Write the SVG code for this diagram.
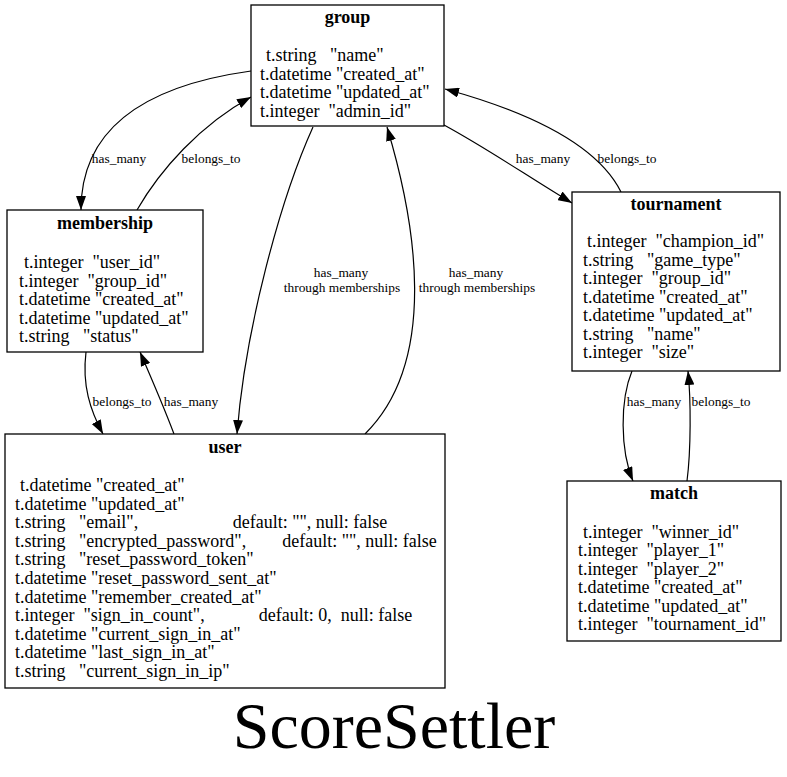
<svg xmlns="http://www.w3.org/2000/svg" width="787" height="777" viewBox="0 0 787 777">
<style>
.bg{fill:#fff}
.box{fill:#fff;stroke:#000;stroke-width:1.3}
.t{font-family:"Liberation Serif","Times New Roman",serif;font-size:18px;fill:#000;white-space:pre}
.h{font-weight:bold;text-anchor:middle}
.e{fill:none;stroke:#000;stroke-width:1.2;marker-end:url(#ah)}
.l{font-family:"Liberation Serif","Times New Roman",serif;font-size:13.4px;fill:#000;text-anchor:middle}
.big{font-family:"Liberation Serif","Times New Roman",serif;font-size:66px;fill:#000;text-anchor:middle}
</style>
<defs>
<marker id="ah" markerWidth="14" markerHeight="10" refX="14" refY="5" orient="auto" markerUnits="userSpaceOnUse">
<path d="M0,0 L14,5 L0,10 z" fill="#000"/>
</marker>
</defs>
<rect class="bg" x="0" y="0" width="787" height="777"/>

<g id="connectors">
<path class="e" d="M251,71 C150,85 81,125 81,210"/>
<path class="e" d="M137,210 C160,170 200,125 251,97"/>
<path class="e" d="M444,125 C490,150 530,178 572,203"/>
<path class="e" d="M621,192 C600,150 540,115 445,89"/>
<path class="e" d="M313,127 C280,200 245,330 237,434"/>
<path class="e" d="M365,434 C440,360 415,220 387,127"/>
<path class="e" d="M86,352 C82,385 90,410 103,434"/>
<path class="e" d="M174,434 C165,410 150,375 140,352"/>
<path class="e" d="M632,371 C620,400 620,450 633,481"/>
<path class="e" d="M687,481 C691,450 691,400 688,371"/>
<text class="l" x="119" y="163">has_many</text>
<text class="l" x="211" y="163">belongs_to</text>
<text class="l" x="543" y="163">has_many</text>
<text class="l" x="627" y="163">belongs_to</text>
<text class="l" x="341" y="277">has_many</text>
<text class="l" x="342" y="292">through memberships</text>
<text class="l" x="476" y="277">has_many</text>
<text class="l" x="477" y="292">through memberships</text>
<text class="l" x="122" y="406">belongs_to</text>
<text class="l" x="191" y="406">has_many</text>
<text class="l" x="654" y="406">has_many</text>
<text class="l" x="721" y="406">belongs_to</text>
</g>

<g id="group">
<rect class="box" x="251" y="5" width="193" height="121"/>
<text class="t h" x="347.5" y="23">group</text>
<text class="t" x="266" y="61">t.string   "name"</text>
<text class="t" x="260" y="79.5">t.datetime "created_at"</text>
<text class="t" x="260" y="98">t.datetime "updated_at"</text>
<text class="t" x="260" y="116.5">t.integer  "admin_id"</text>
</g>

<g id="membership">
<rect class="box" x="7" y="210" width="196" height="142"/>
<text class="t h" x="105" y="229">membership</text>
<text class="t" x="24" y="268">t.integer  "user_id"</text>
<text class="t" x="19" y="286.5">t.integer  "group_id"</text>
<text class="t" x="19" y="305">t.datetime "created_at"</text>
<text class="t" x="19" y="323.5">t.datetime "updated_at"</text>
<text class="t" x="19" y="342">t.string   "status"</text>
</g>

<g id="tournament">
<rect class="box" x="572" y="192" width="208" height="179"/>
<text class="t h" x="676" y="210">tournament</text>
<text class="t" x="587" y="247">t.integer  "champion_id"</text>
<text class="t" x="583" y="265.5">t.string   "game_type"</text>
<text class="t" x="583" y="284">t.integer  "group_id"</text>
<text class="t" x="583" y="302.5">t.datetime "created_at"</text>
<text class="t" x="583" y="321">t.datetime "updated_at"</text>
<text class="t" x="583" y="339.5">t.string   "name"</text>
<text class="t" x="583" y="358">t.integer  "size"</text>
</g>

<g id="user">
<rect class="box" x="5" y="434" width="440" height="254"/>
<text class="t h" x="225" y="453">user</text>
<text class="t" x="20" y="491">t.datetime "created_at"</text>
<text class="t" x="15" y="509.6">t.datetime "updated_at"</text>
<text class="t" x="15" y="528.2">t.string   "email",                     default: "", null: false</text>
<text class="t" x="15" y="546.8">t.string   "encrypted_password",        default: "", null: false</text>
<text class="t" x="15" y="565.4">t.string   "reset_password_token"</text>
<text class="t" x="15" y="584">t.datetime "reset_password_sent_at"</text>
<text class="t" x="15" y="602.6">t.datetime "remember_created_at"</text>
<text class="t" x="15" y="621.2">t.integer  "sign_in_count",            default: 0,  null: false</text>
<text class="t" x="15" y="639.8">t.datetime "current_sign_in_at"</text>
<text class="t" x="15" y="658.4">t.datetime "last_sign_in_at"</text>
<text class="t" x="15" y="677">t.string   "current_sign_in_ip"</text>
</g>

<g id="match">
<rect class="box" x="567" y="481" width="214" height="160"/>
<text class="t h" x="674" y="499">match</text>
<text class="t" x="583" y="538">t.integer  "winner_id"</text>
<text class="t" x="578" y="556.4">t.integer  "player_1"</text>
<text class="t" x="578" y="574.8">t.integer  "player_2"</text>
<text class="t" x="578" y="593.2">t.datetime "created_at"</text>
<text class="t" x="578" y="611.6">t.datetime "updated_at"</text>
<text class="t" x="578" y="630">t.integer  "tournament_id"</text>
</g>

<text class="big" x="394" y="748">ScoreSettler</text>
</svg>
